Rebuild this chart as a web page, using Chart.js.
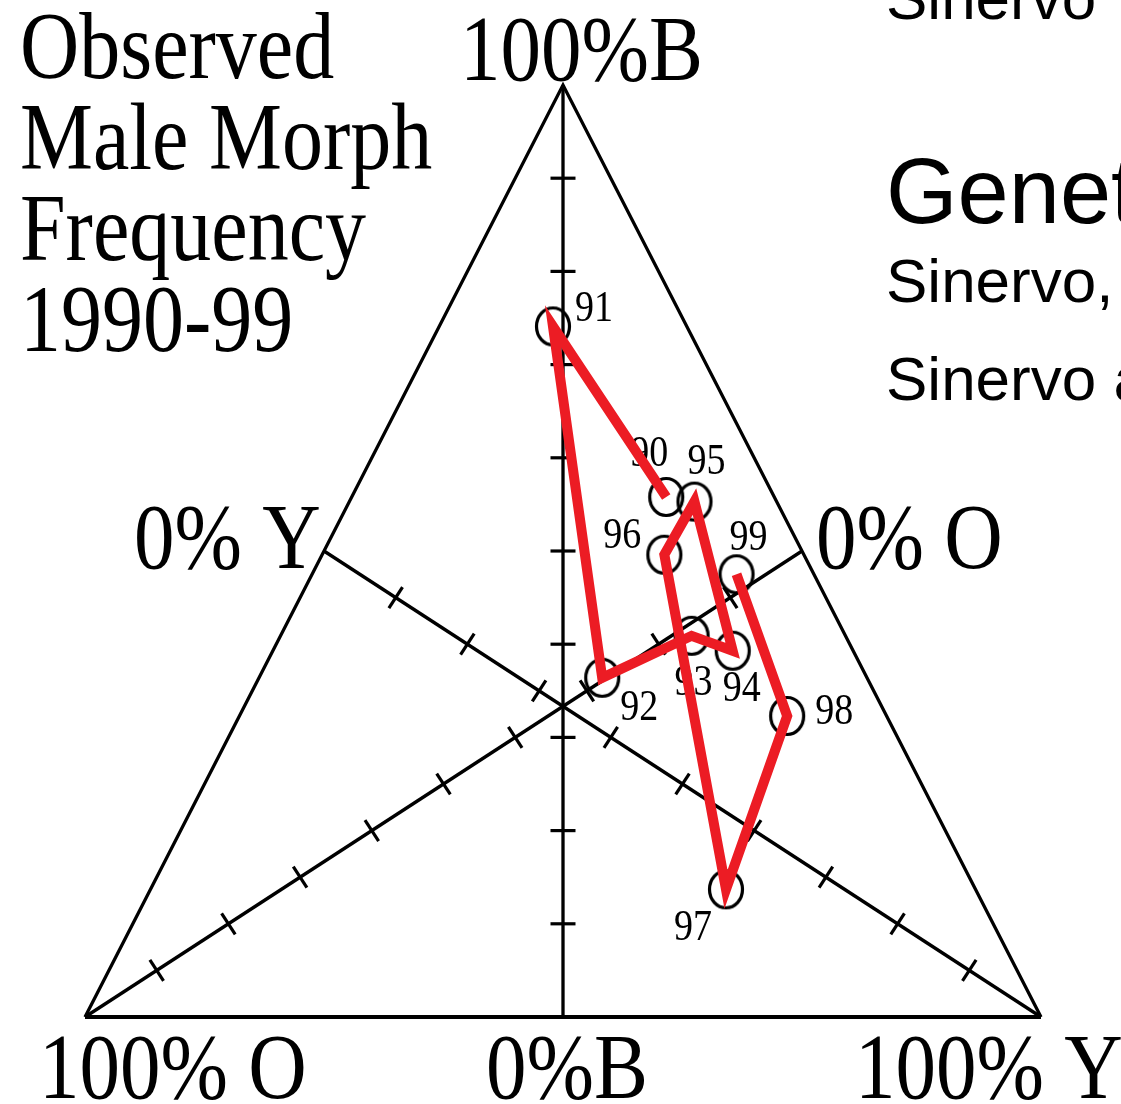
<!DOCTYPE html>
<html>
<head>
<meta charset="utf-8">
<script src="https://cdn.jsdelivr.net/npm/chart.js@4.4.1/dist/chart.umd.min.js"></script>
<style>
  html, body { margin: 0; padding: 0; background: #fff; }
  #wrap { width: 1121px; height: 1104px; }
</style>
</head>
<body>
<div id="wrap"><canvas id="ternaire" width="1121" height="1104"></canvas></div>
<script>
// Années observées (1990-99)
const annees = ['90', '91', '92', '93', '94', '95', '96', '97', '98', '99'];
// Fréquences des morphes mâles : B (bleu), O (orange), Y (jaune)
const freqB = [0.558, 0.741, 0.364, 0.409, 0.393, 0.553, 0.496, 0.137, 0.323, 0.475];
const freqO = [0.113, 0.140, 0.277, 0.161, 0.126, 0.086, 0.146, 0.261, 0.104, 0.081];
const freqY = [0.329, 0.119, 0.359, 0.430, 0.481, 0.361, 0.358, 0.602, 0.573, 0.444];
// Graduations le long des médianes
const graduations = [0.1, 0.2, 0.3, 0.4, 0.5, 0.6, 0.7, 0.8, 0.9];

const ROUGE = '#ec1c24';
const SERIF = '"Liberation Serif", "Times New Roman", serif';
const SANS = '"Liberation Sans", Arial, sans-serif';
const ETIREMENT = 1.15; // la figure d'origine est étirée verticalement

// composition (B, O, Y) -> coordonnées du plan
function versXY(b, o, y) {
  const s = b + o + y;
  return { x: (y + b / 2) / s, y: b / s };
}

const sommetB = versXY(1, 0, 0);
const sommetO = versXY(0, 1, 0);
const sommetY = versXY(0, 0, 1);

// points des années
const pointsAnnees = annees.map((a, i) => versXY(freqB[i], freqO[i], freqY[i]));

// graduations sur les trois médianes
const gradB = graduations.map(v => versXY(v, (1 - v) / 2, (1 - v) / 2));
const gradO = graduations.map(v => versXY((1 - v) / 2, v, (1 - v) / 2));
const gradY = graduations.map(v => versXY((1 - v) / 2, (1 - v) / 2, v));

// angle (degrés) perpendiculaire à une médiane, en pixels
function anglePerpendiculaire(chart, de, vers) {
  const sx = chart.scales.x, sy = chart.scales.y;
  const dx = sx.getPixelForValue(vers.x) - sx.getPixelForValue(de.x);
  const dy = sy.getPixelForValue(vers.y) - sy.getPixelForValue(de.y);
  return Math.atan2(dy, dx) * 180 / Math.PI + 90;
}

// cercle légèrement ovale comme sur la figure
function cercleEtire() {
  const c = document.createElement('canvas');
  c.width = 44; c.height = 48;
  const g = c.getContext('2d');
  g.lineWidth = 3.2;
  g.strokeStyle = '#000';
  g.beginPath();
  g.ellipse(22, 24, 16.5, 18.5, 0, 0, 2 * Math.PI);
  g.stroke();
  return c;
}

function texteEtire(ctx, txt, x, y, font) {
  ctx.save();
  ctx.translate(x, y);
  ctx.scale(1, ETIREMENT);
  ctx.font = font;
  ctx.fillText(txt, 0, 0);
  ctx.restore();
}

// décalage des étiquettes d'années par rapport au cercle (px)
const decalages = {
  '90': [-17, -42], '91': [41, -17], '92': [37, 31], '93': [2, 48], '94': [9, 39],
  '95': [12, -39], '96': [-42, -18], '97': [-33, 39], '98': [47, -3], '99': [12, -36]
};

const pluginTextes = {
  id: 'textes',
  beforeDatasetsDraw(chart) {
    const ctx = chart.ctx;
    const meta = chart.getDatasetMeta(1);
    ctx.save();
    ctx.fillStyle = '#000';
    ctx.textAlign = 'center';
    ctx.textBaseline = 'middle';
    meta.data.forEach((pt, i) => {
      const d = decalages[annees[i]];
      texteEtire(ctx, annees[i], pt.x + d[0], pt.y + d[1], '38px ' + SERIF);
    });
    ctx.restore();
  },
  afterDraw(chart) {
    const ctx = chart.ctx;
    const sx = chart.scales.x, sy = chart.scales.y;
    const haut = { x: sx.getPixelForValue(sommetB.x), y: sy.getPixelForValue(sommetB.y) };
    const gauche = { x: sx.getPixelForValue(sommetO.x), y: sy.getPixelForValue(sommetO.y) };
    const droite = { x: sx.getPixelForValue(sommetY.x), y: sy.getPixelForValue(sommetY.y) };
    ctx.save();
    ctx.fillStyle = '#000';
    ctx.textAlign = 'left';
    ctx.textBaseline = 'alphabetic';

    // titre à gauche
    const titre = ['Observed', 'Male Morph', 'Frequency', '1990-99'];
    titre.forEach((l, i) => texteEtire(ctx, l, 20, 78 + i * 91, '82px ' + SERIF));

    // sommets et milieux
    const f = '81px ' + SERIF;
    texteEtire(ctx, '100%B', haut.x - 103, haut.y - 5, f);
    texteEtire(ctx, '0% Y', 134, 568, f);
    texteEtire(ctx, '0% O', 816, 568, f);
    texteEtire(ctx, '100% O', gauche.x - 46, 1098, f);
    texteEtire(ctx, '0%B', (gauche.x + droite.x) / 2 - 77, 1098, f);
    texteEtire(ctx, '100% Y', droite.x - 186, 1098, f);

    // texte coupé à droite
    ctx.font = '62px ' + SANS;
    ctx.fillText('Sinervo', 886, 19);
    ctx.font = '92px ' + SANS;
    ctx.fillText('Genetic', 886, 223);
    ctx.font = '62px ' + SANS;
    ctx.fillText('Sinervo, B.', 886, 302);
    ctx.fillText('Sinervo and', 886, 400);
    ctx.restore();
  }
};

const ligneNoire = (data, epaisseur) => ({
  data: data,
  showLine: true,
  borderColor: '#000',
  borderWidth: epaisseur,
  borderJoinStyle: 'miter',
  pointRadius: 0,
  clip: false,
  order: 3
});

const graduationsDataset = (data, de, vers) => ({
  data: data,
  showLine: false,
  pointStyle: 'line',
  pointRadius: 12.5,
  pointBorderWidth: 3.2,
  pointBorderColor: '#000',
  pointRotation: (c) => anglePerpendiculaire(c.chart, de, vers),
  clip: false,
  order: 2
});

new Chart(document.getElementById('ternaire'), {
  type: 'scatter',
  data: {
    datasets: [
      {
        // trajectoire 1990 -> 1999
        data: pointsAnnees,
        showLine: true,
        borderColor: ROUGE,
        borderWidth: 10,
        borderJoinStyle: 'miter',
        tension: 0,
        pointRadius: 0,
        clip: false,
        order: 0
      },
      {
        // cercles des années
        data: pointsAnnees,
        showLine: false,
        pointStyle: cercleEtire(),
        pointRadius: 18,
        clip: false,
        order: 1
      },
      ligneNoire([sommetY, sommetB, sommetO], 3.3),
      ligneNoire([sommetO, sommetY], 4),
      ligneNoire([sommetB, versXY(0, 0.5, 0.5)], 3.3),
      ligneNoire([sommetO, versXY(0.5, 0, 0.5)], 3.3),
      ligneNoire([sommetY, versXY(0.5, 0.5, 0)], 3.3),
      graduationsDataset(gradB, sommetB, versXY(0, 0.5, 0.5)),
      graduationsDataset(gradO, sommetO, versXY(0.5, 0, 0.5)),
      graduationsDataset(gradY, sommetY, versXY(0.5, 0.5, 0))
    ]
  },
  options: {
    responsive: false,
    animation: false,
    events: [],
    layout: { padding: { left: 85, right: 80, top: 85, bottom: 87 } },
    scales: {
      x: { type: 'linear', min: 0, max: 1, display: false },
      y: { type: 'linear', min: 0, max: 1, display: false }
    },
    plugins: {
      legend: { display: false },
      tooltip: { enabled: false }
    }
  },
  plugins: [pluginTextes]
});
</script>
</body>
</html>
